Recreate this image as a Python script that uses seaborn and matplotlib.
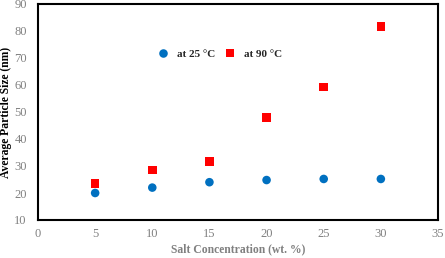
import matplotlib
matplotlib.use("Agg")
import matplotlib.pyplot as plt
import seaborn as sns
import pandas as pd

salt_conc = [5, 10, 15, 20, 25, 30]
size_25c = [20.0, 22.0, 24.0, 24.8, 25.2, 25.2]
size_90c = [23.5, 28.5, 31.7, 47.9, 59.2, 81.7]
x_ticks = [0, 5, 10, 15, 20, 25, 30, 35]
y_ticks = [10, 20, 30, 40, 50, 60, 70, 80, 90]

df = pd.DataFrame({
    "salt": salt_conc * 2,
    "size": size_25c + size_90c,
    "temp": ["at 25 °C"] * 6 + ["at 90 °C"] * 6,
})

sns.set_style("white")
plt.rcParams["font.family"] = ["Liberation Serif", "DejaVu Serif"]

fig = plt.figure(figsize=(4.45, 2.58), dpi=100)
ax = fig.add_axes([38 / 445, 1 - 220 / 258, 400 / 445, 216 / 258])

sns.scatterplot(
    data=df, x="salt", y="size", hue="temp", style="temp",
    palette={"at 25 °C": "#0070C0", "at 90 °C": "#FF0000"},
    markers={"at 25 °C": "o", "at 90 °C": "s"},
    s=38, linewidth=0, ax=ax,
)

ax.set_xlim(0, 35)
ax.set_ylim(10, 90)
ax.set_xticks(x_ticks)
ax.set_yticks(y_ticks)
ax.tick_params(axis="both", direction="in", length=3, width=1.2,
               labelsize=9, labelcolor="#808080", color="black")
ax.tick_params(axis="x", pad=6)
ax.tick_params(axis="y", pad=8)
for sp in ax.spines.values():
    sp.set_color("black")
    sp.set_linewidth(1.5)

ax.set_xlabel("Salt Concentration (wt. %)", fontsize=8.4, fontweight="bold",
              color="#808080", labelpad=2)
ax.set_ylabel("Average Particle Size (nm)", fontsize=8.4, fontweight="bold",
              color="black")
ax.yaxis.set_label_coords(-0.065, 0.5)

ax.legend(loc="center left", bbox_to_anchor=(0.2985, 0.77), ncol=2, frameon=False,
          handlelength=1.0, handletextpad=0.76, columnspacing=0.85,
          borderaxespad=0, borderpad=0, markerscale=1.0,
          prop={"weight": "bold", "size": 8})

fig.savefig("out.png", dpi=100)
